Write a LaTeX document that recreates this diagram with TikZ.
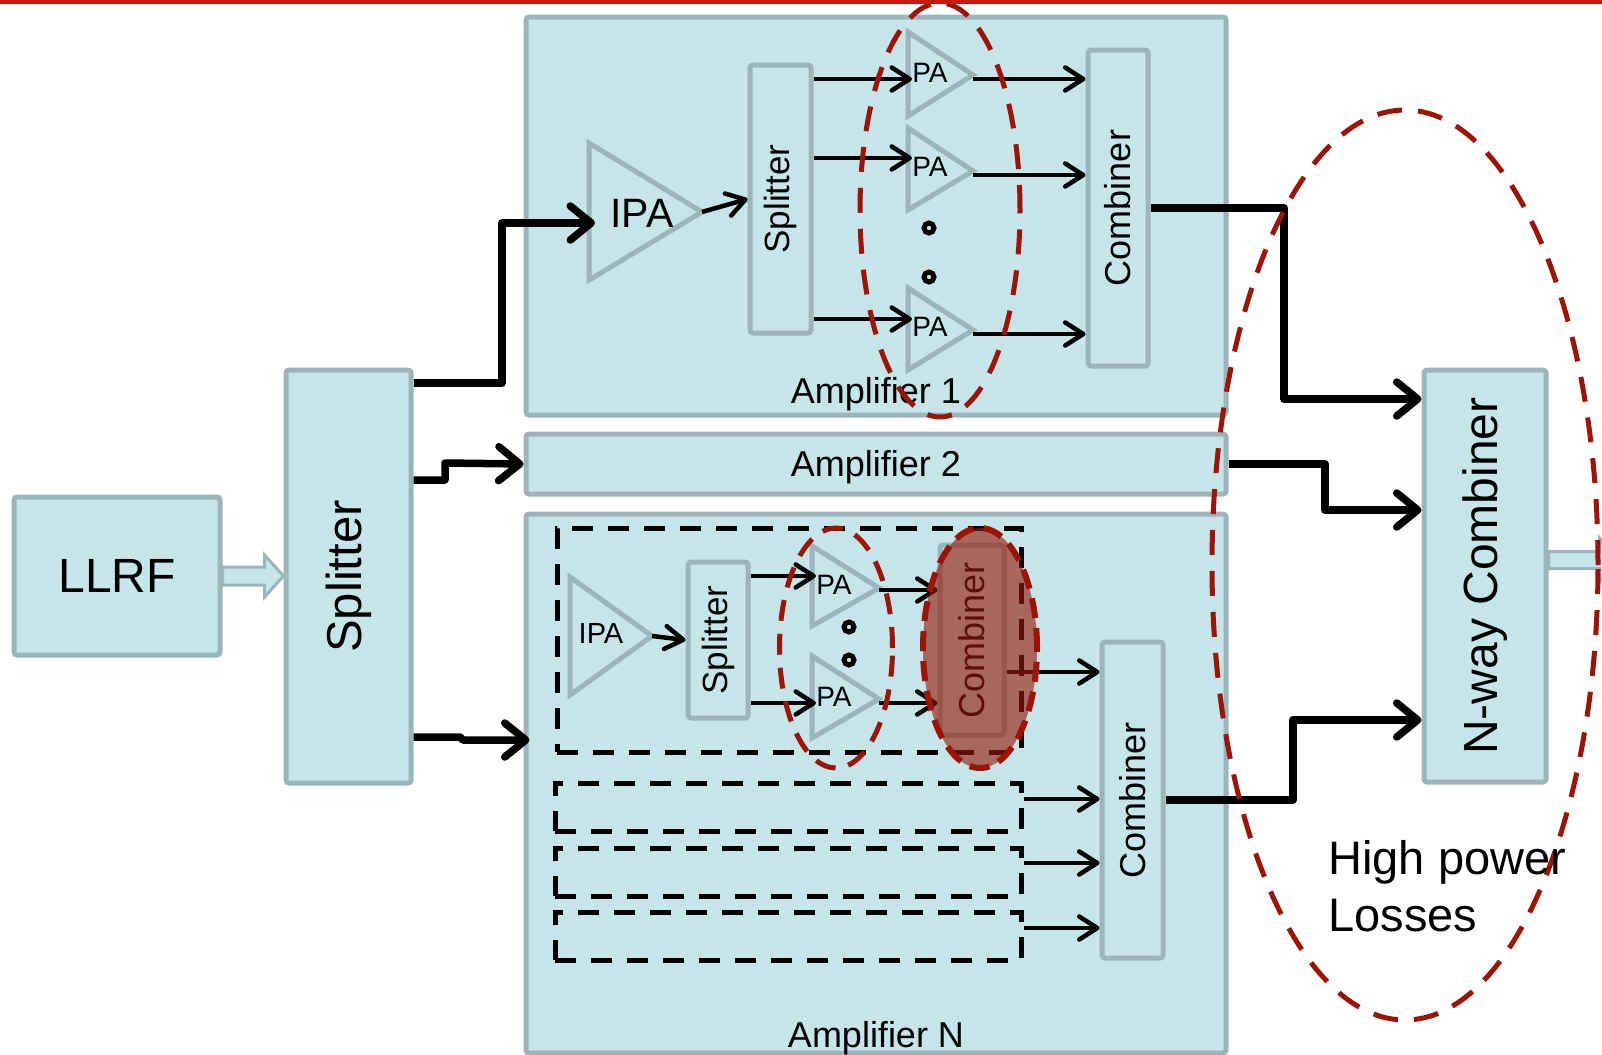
\documentclass[tikz,border=0pt]{standalone}
\usepackage{fontspec}
\setmainfont{Liberation Sans}
\usepackage{graphicx}
\usetikzlibrary{arrows.meta,shapes.geometric,calc}
\definecolor{boxfill}{RGB}{197,229,232}
\definecolor{boxline}{RGB}{156,181,186}
\definecolor{hlred}{RGB}{155,20,5}
\definecolor{topred}{RGB}{200,25,10}
\definecolor{fillred}{RGB}{150,25,10}
\newcommand{\fsz}[1]{\fontsize{#1pt}{#1pt}\selectfont}
\begin{document}
\begin{tikzpicture}[x=0.5pt,y=-0.5pt,
 box/.style={draw=boxline,fill=boxfill,line width=2.5pt,inner sep=0pt,rounded corners=1.5pt},
 tri/.style={draw=boxline,fill=boxfill,line width=2.5pt,line join=miter},
 dbox/.style={draw=black,line width=2.5pt,dash pattern=on 10.5pt off 7.5pt,inner sep=0pt},
 wire/.style={line width=3.75pt,line join=round,-{Straight Barb[length=10.5pt,width=17pt,round]}},
 sig/.style={line width=2.25pt,-{Straight Barb[length=9pt,width=11.5pt,round]}},
 hollow/.style={draw=boxline,fill=boxfill,line width=1.5pt,line join=miter},
 hl/.style={draw=hlred,ellipse,line width=2.5pt,inner sep=0pt,dash pattern=on 12.5pt off 8pt},
 lbl/.style={inner sep=0pt},
 dotring/.style={line width=2.5pt}
]
\useasboundingbox (0,0) rectangle (1602,1055);

% main boxes
\node[box,minimum width=103pt,minimum height=79pt,font=\fsz{24}] (llrf) at (117,576) {LLRF};
\node[box,minimum width=62.5pt,minimum height=206.5pt,font=\fsz{24.5}] (spl) at (348.5,576.5) {\rotatebox{90}{Splitter}};
\node[box,minimum width=350pt,minimum height=199pt] (amp1) at (876,216) {};
\node[box,minimum width=350pt,minimum height=30pt] (amp2) at (876,464) {};
\node[box,minimum width=350pt,minimum height=269.5pt] (ampN) at (876,783.5) {};
\node[box,minimum width=61pt,minimum height=206pt,font=\fsz{24}] (nway) at (1485,576) {\rotatebox{90}{N-way Combiner}};

\node[lbl,anchor=base,font=\fsz{18}] (a1t) at (876,403) {Amplifier 1};
\node[lbl,anchor=base,font=\fsz{18}] (a2t) at (876,476) {Amplifier 2};
\node[lbl,anchor=base,font=\fsz{18}] (aNt) at (876,1047) {Amplifier N};

% hollow arrows
\draw[hollow] ($(llrf.east)+(0,-9)$) -- ($(spl.west|-llrf.east)+(-19,-9)$) -- ($(spl.west|-llrf.east)+(-19,-21)$) -- (spl.west|-llrf.east) -- ($(spl.west|-llrf.east)+(-19,21)$) -- ($(spl.west|-llrf.east)+(-19,9)$) -- ($(llrf.east)+(0,9)$) -- cycle;
\draw[hollow] ($(nway.east |- 0,560)+(0,-8.5)$) -- ++(51,0) -- ++(0,-13.5) -- ++(20,22) -- ++(-20,22) -- ++(0,-13.5) -- ($(nway.east |- 0,560)+(0,8.5)$) -- cycle;

% Amplifier 1 internals
\node[box,minimum width=30.5pt,minimum height=134pt,font=\fsz{17.5}] (spl1) at (780.5,199) {\rotatebox{90}{Splitter}};
\node[box,minimum width=30pt,minimum height=158pt,font=\fsz{18}] (comb1) at (1118,208) {\rotatebox{90}{Combiner}};
\coordinate (ipa1) at (702,212);
\coordinate (ipa1in) at (595,223);
\draw[tri] (589,143) -- (ipa1) -- (589,280) -- cycle;
\node[lbl,font=\fsz{20.5}] (ipa1t) at (642,213) {IPA};
\coordinate (pa1a) at (973,75);
\coordinate (pa1b) at (973,171);
\coordinate (pa1c) at (973,330);
\draw[tri] (908,32) -- (pa1a) -- (908,116) -- cycle;
\draw[tri] (908,128) -- (pa1b) -- (908,210) -- cycle;
\draw[tri] (908,288) -- (pa1c) -- (908,370) -- cycle;
\node[lbl,font=\fsz{14}] (pa1at) at (930,73) {PA};
\node[lbl,font=\fsz{14}] (pa1bt) at (930,167) {PA};
\node[lbl,font=\fsz{14}] (pa1ct) at (930,327) {PA};
\draw[dotring] (929,228) circle[radius=5];
\draw[dotring] (929,277) circle[radius=5];

\draw[sig] (ipa1) -- (spl1.west |- 0,199);
\draw[sig] (spl1.east |- 0,79) -- (pa1at.west |- 0,79);
\draw[sig] (spl1.east |- 0,158) -- (pa1bt.west |- 0,158);
\draw[sig] (spl1.east |- 0,319) -- (pa1ct.west |- 0,319);
\draw[sig] (pa1a |- 0,79) -- (comb1.west |- 0,79);
\draw[sig] (pa1b |- 0,175) -- (comb1.west |- 0,175);
\draw[sig] (pa1c |- 0,334) -- (comb1.west |- 0,334);

% Amplifier N internals
\node[dbox,minimum width=232pt,minimum height=112pt] (db1) at (789,640) {};
\node[dbox,minimum width=233pt,minimum height=24pt] (db2) at (788,807) {};
\node[dbox,minimum width=233pt,minimum height=24pt] (db3) at (788,872) {};
\node[dbox,minimum width=233pt,minimum height=24pt] (db4) at (788,936) {};
\coordinate (ipaN) at (652,636);
\draw[tri] (570,577) -- (ipaN) -- (570,695) -- cycle;
\node[lbl,font=\fsz{14.5}] (ipaNt) at (601,634) {IPA};
\node[box,minimum width=30pt,minimum height=78pt,font=\fsz{17.5}] (splN) at (718,640) {\rotatebox{90}{Splitter}};
\coordinate (paNa) at (879,588);
\coordinate (paNb) at (879,699);
\draw[tri] (812,546) -- (paNa) -- (812,626) -- cycle;
\draw[tri] (812,656) -- (paNb) -- (812,738) -- cycle;
\node[lbl,font=\fsz{14}] (paNat) at (834,585) {PA};
\node[lbl,font=\fsz{14}] (paNbt) at (834,697) {PA};
\draw[dotring] (849,627) circle[radius=5];
\draw[dotring] (849,660) circle[radius=5];
\node[box,minimum width=32pt,minimum height=95pt,font=\fsz{18}] (combNs) at (972,640) {\rotatebox{90}{Combiner}};
\node[box,minimum width=30.5pt,minimum height=158pt,font=\fsz{18}] (combN) at (1132.5,800) {\rotatebox{90}{Combiner}};

\draw[sig] (ipaN) -- (splN.west |- 0,640);
\draw[sig] (splN.east |- 0,576) -- (paNat.west |- 0,576);
\draw[sig] (splN.east |- 0,703) -- (paNbt.west |- 0,703);
\draw[sig] (paNa |- 0,590) -- (combNs.west |- 0,590);
\draw[sig] (paNb |- 0,703) -- (combNs.west |- 0,703);
\draw[sig] (combNs.east |- 0,672) -- (combN.west |- 0,672);
\draw[sig] (db2.east |- 0,799) -- (combN.west |- 0,799);
\draw[sig] (db3.east |- 0,863) -- (combN.west |- 0,863);
\draw[sig] (db4.east |- 0,928) -- (combN.west |- 0,928);

% main wires
\draw[wire] (spl.east |- 0,383) -- (502,383) -- (502,223) -- (ipa1in);
\draw[wire] (spl.east |- 0,480) -- (445,480) -- (445,463) -- (amp2.west);
\draw[wire] (spl.east |- 0,737) -- (460,737) -- (463,740) -- ($(ampN.west |- 0,740)+(6,0)$);
\draw[wire] (comb1.east |- 0,208) -- (1284,208) -- (1284,399) -- (nway.west |- 0,399);
\draw[wire] (amp2.east) -- (1325,464) -- (1325,510) -- (nway.west |- 0,510);
\draw[wire] (combN.east) -- (1293,800) -- (1293,720) -- (nway.west |- 0,720);

% highlights
\node[hl,minimum width=80pt,minimum height=207pt] (hl1) at (940,210) {};
\node[hl,minimum width=56.5pt,minimum height=120pt,dash pattern=on 10.5pt off 6.5pt] (hl2) at (836,648) {};
\node[hl,minimum width=57pt,minimum height=120pt,fill=fillred,fill opacity=0.62,line width=3pt,dash pattern=on 10pt off 5pt] (hl3) at (980,648) {};
\node[hl,minimum width=193pt,minimum height=455pt] (hl4) at (1405,565) {};

\node[lbl,anchor=base west,font=\fsz{23.5}] (hp1) at (1328,874) {High power};
\node[lbl,anchor=base west,font=\fsz{23.5}] (hp2) at (1328,931) {Losses};

\draw[topred,line width=1.75pt] (0,1.75) -- (1602,1.75);
\end{tikzpicture}
\end{document}
